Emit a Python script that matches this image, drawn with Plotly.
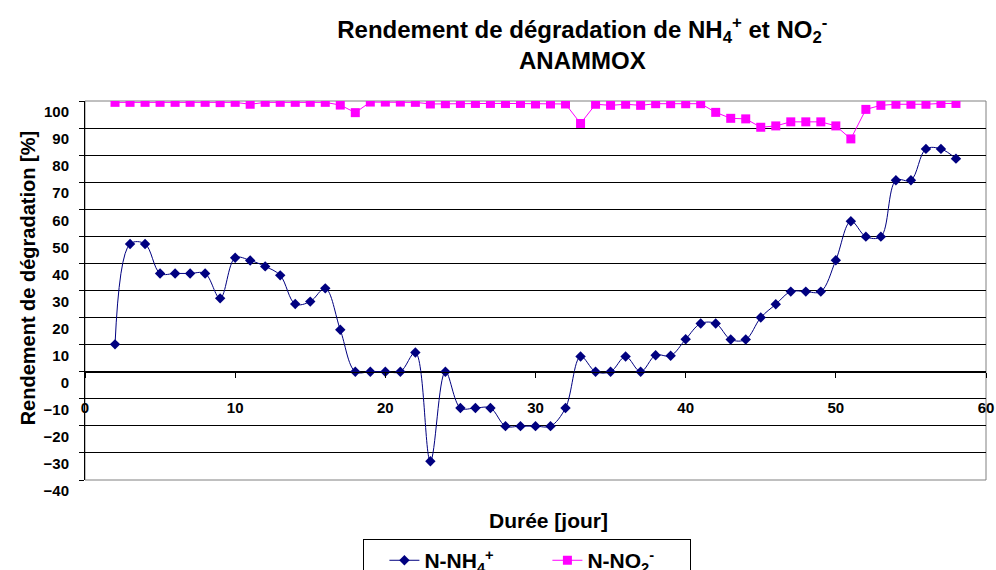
"""Rendement de dégradation NH4+ / NO2- (ANAMMOX) — recreated with Plotly."""
import plotly.graph_objects as go

# --- data ---
days = list(range(2, 59))

nh4 = [10.1, 47.2, 47.2, 36.3, 36.3, 36.3, 36.3, 27.1, 42.1, 41.1,
       38.9, 35.6, 25.0, 25.9, 30.8, 15.5, 0.0, 0.0, 0.0, 0.0,
       7.1, -33.1, 0.0, -13.4, -13.4, -13.4, -20.1, -20.1, -20.1, -20.1,
       -13.4, 5.6, 0.0, 0.0, 5.6, 0.0, 6.1, 5.9, 12.0, 17.8,
       17.8, 11.9, 11.9, 20.0, 24.9, 29.6, 29.6, 29.6, 41.2, 55.6,
       49.9, 49.9, 70.7, 70.7, 82.3, 82.3, 78.7]

no2 = [99.5, 99.5, 99.5, 99.5, 99.5, 99.5, 99.5, 99.4, 99.5, 98.8,
       99.5, 99.5, 99.5, 99.5, 99.5, 98.5, 95.7, 99.6, 99.6, 99.6,
       99.5, 98.9, 99.0, 99.1, 99.1, 99.1, 99.1, 99.1, 98.9, 98.9,
       98.9, 91.7, 98.8, 98.4, 98.8, 98.4, 99.0, 99.0, 99.0, 99.0,
       95.8, 93.6, 93.4, 90.3, 90.8, 92.3, 92.3, 92.3, 90.8, 86.0,
       96.9, 98.4, 98.8, 98.8, 98.8, 99.1, 99.1]

y_range = [-40, 100]
x_range = [0, 60]

FONT = "Arial, Liberation Sans, sans-serif"

fig = go.Figure()
fig.add_trace(go.Scatter(
    x=days, y=nh4, mode="lines+markers", name="N-NH<sub>4</sub><sup>+</sup>",
    line=dict(color="#000080", width=1, shape="spline", smoothing=1.0),
    marker=dict(symbol="diamond", size=8, color="#000080"),
))
fig.add_trace(go.Scatter(
    x=days, y=no2, mode="lines+markers", name="N-NO<sub>2</sub><sup>-</sup>",
    line=dict(color="#FF00FF", width=1),
    marker=dict(symbol="square", size=9, color="#FF00FF"),
))

# x axis crosses the y axis at 0
x_pos = (0 - y_range[0]) / (y_range[1] - y_range[0])

fig.update_layout(
    width=996, height=570,
    margin=dict(l=85, r=10, t=101, b=90, autoexpand=False),
    paper_bgcolor="white", plot_bgcolor="white",
    font=dict(family=FONT, color="black", size=15, weight="bold"),
    title=dict(
        text="Rendement de dégradation de NH<sub>4</sub><sup>+</sup> et NO<sub>2</sub><sup>-</sup><br>ANAMMOX",
        x=0.552, xref="paper", xanchor="center", y=0.933, yanchor="top",
        font=dict(family=FONT, size=24, weight="bold"),
    ),
    xaxis=dict(
        range=x_range, dtick=10, anchor="free", position=x_pos,
        showgrid=False, zeroline=False, automargin=False,
        showline=True, linecolor="black", linewidth=1,
        ticks="outside", ticklen=5, tickcolor="black",
        ticklabelstandoff=17, ticklabeloverflow="allow",
        tickfont=dict(family=FONT, size=15, weight="bold"),
    ),
    yaxis=dict(
        range=y_range, dtick=10, automargin=False,
        showgrid=True, gridcolor="black", gridwidth=1,
        zeroline=False,
        showline=True, linecolor="black", linewidth=1,
        ticks="outside", ticklen=5, tickcolor="black",
        ticklabelshift=11, ticklabelstandoff=7,
        tickfont=dict(family=FONT, size=15, weight="bold"),
    ),
    showlegend=True,
    legend=dict(
        orientation="h", x=0.309, xanchor="left", y=-0.156, yanchor="top",
        bordercolor="black", borderwidth=1, bgcolor="white",
        indentation=20, entrywidth=98, entrywidthmode="pixels",
        font=dict(family=FONT, size=21, weight="bold"),
    ),
    annotations=[
        dict(text="Durée [jour]", xref="paper", yref="paper",
             x=0.514, y=-0.108, xanchor="center", yanchor="middle",
             showarrow=False, font=dict(family=FONT, size=21, weight="bold")),
        dict(text="Rendement de dégradation [%]", xref="paper", yref="paper",
             x=-0.0633, y=0.532, xanchor="center", yanchor="middle", textangle=-90,
             showarrow=False, font=dict(family=FONT, size=20, weight="bold")),
    ],
    shapes=[dict(
        type="rect", xref="paper", yref="paper", x0=0, x1=1, y0=0, y1=1,
        line=dict(color="#808080", width=1), layer="below",
    )],
)

# drop the default 8px body margin so the figure fills the window exactly
fig.write_html("out.html", config={"displayModeBar": False},
               post_script="document.body.style.margin='0';")
